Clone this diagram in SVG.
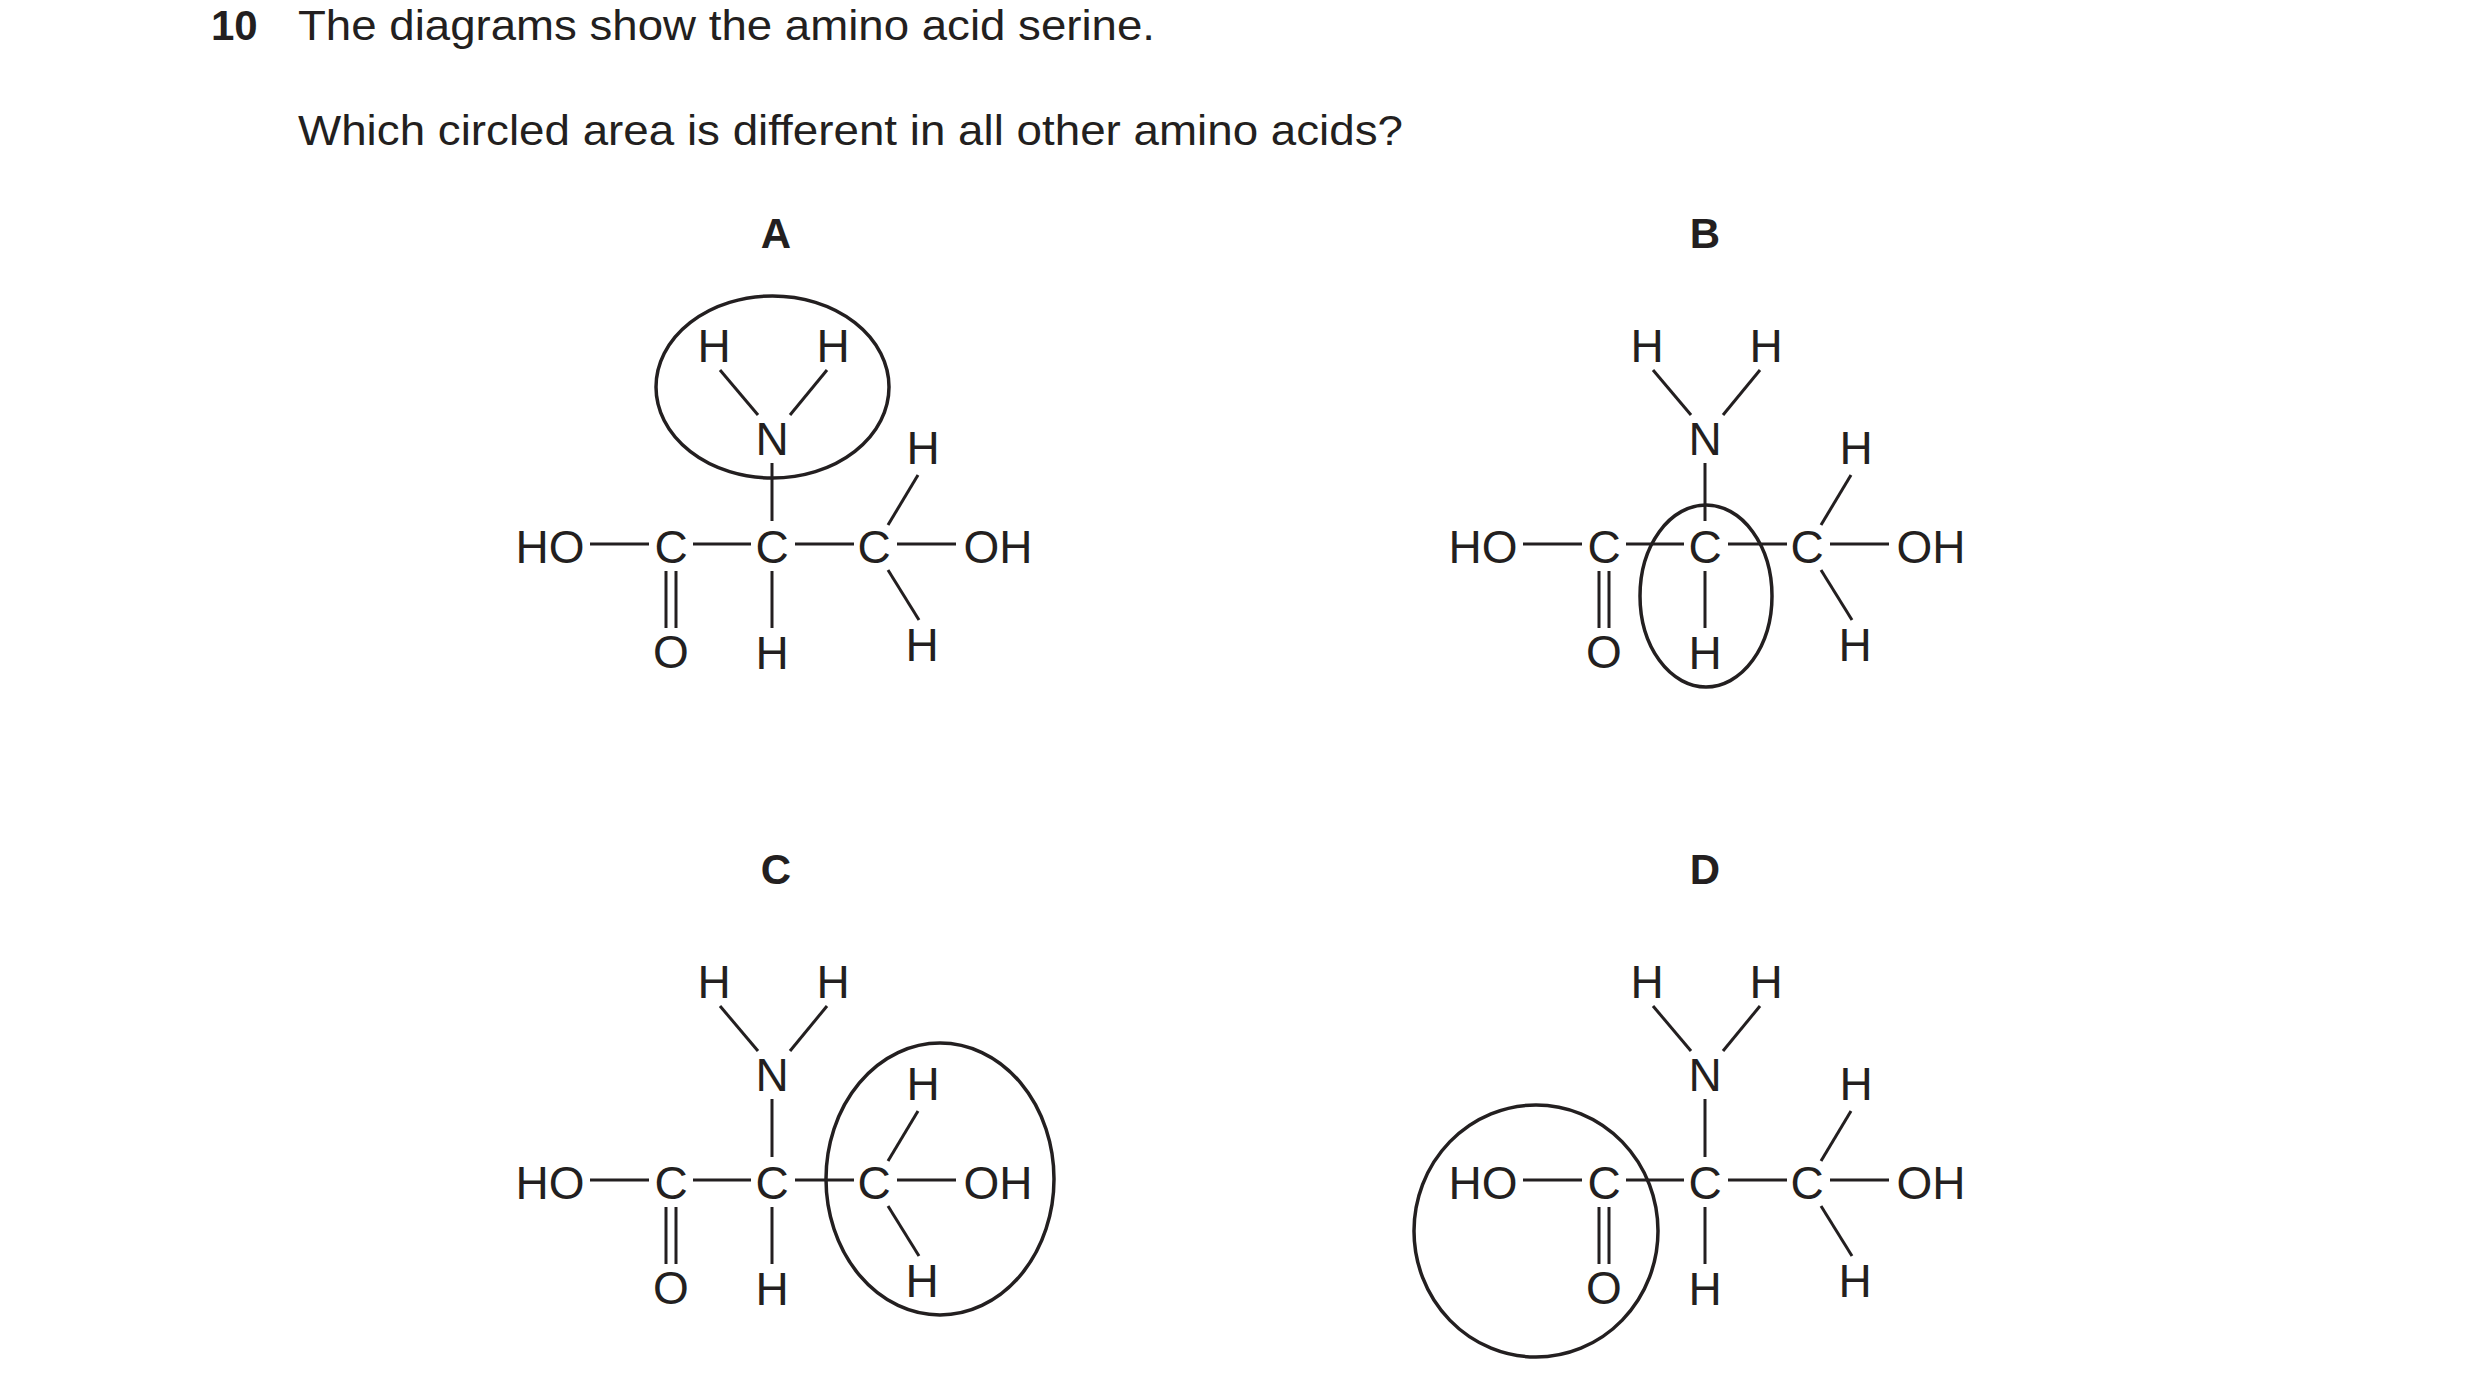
<svg xmlns="http://www.w3.org/2000/svg" xmlns:xlink="http://www.w3.org/1999/xlink" width="2480" height="1397" viewBox="0 0 2480 1397">
<style>
text{font-family:"Liberation Sans",Arial,sans-serif;fill:#231f20}
.q{font-size:42px}
.b{font-weight:bold}
.lbl{font-size:42px;font-weight:bold;text-anchor:middle}
.at{font-size:46px;text-anchor:middle}
.bd{stroke:#231f20;stroke-width:3;fill:none}
.ring{stroke:#231f20;stroke-width:3.5;fill:none}
</style>
<defs>
<g id="serine">
<g class="bd">
<line x1="593" y1="544" x2="652" y2="544"/>
<line x1="696" y1="544" x2="754" y2="544"/>
<line x1="798" y1="544" x2="857" y2="544"/>
<line x1="900" y1="544" x2="959" y2="544"/>
<line x1="723" y1="370" x2="761" y2="415"/>
<line x1="830" y1="370" x2="793" y2="415"/>
<line x1="775" y1="463" x2="775" y2="521"/>
<line x1="775" y1="571" x2="775" y2="628"/>
<line x1="669" y1="571" x2="669" y2="628"/>
<line x1="679" y1="571" x2="679" y2="628"/>
<line x1="891" y1="525" x2="921" y2="475"/>
<line x1="891" y1="570" x2="922" y2="620"/>
</g>
<text class="at" x="553" y="563">HO</text>
<text class="at" x="674" y="563">C</text>
<text class="at" x="775" y="563">C</text>
<text class="at" x="877" y="563">C</text>
<text class="at" x="1001" y="563">OH</text>
<text class="at" x="775" y="455">N</text>
<text class="at" x="717" y="362">H</text>
<text class="at" x="836" y="362">H</text>
<text class="at" x="926" y="464">H</text>
<text class="at" x="775" y="669">H</text>
<text class="at" x="674" y="668">O</text>
<text class="at" x="925" y="661">H</text>
</g>
</defs>
<text class="q b" x="211" y="40">10</text>
<text class="q" x="298" y="40" textLength="857" lengthAdjust="spacingAndGlyphs">The diagrams show the amino acid serine.</text>
<text class="q" x="298" y="145" textLength="1105" lengthAdjust="spacingAndGlyphs">Which circled area is different in all other amino acids?</text>
<g id="A">
<text class="lbl" x="776" y="248">A</text>
<use xlink:href="#serine" transform="translate(-3,0)"/>
<ellipse class="ring" cx="772.5" cy="387" rx="116.5" ry="91"/>
</g>
<g id="B">
<text class="lbl" x="1705" y="248">B</text>
<use xlink:href="#serine" transform="translate(930,0)"/>
<ellipse class="ring" cx="1706" cy="596" rx="66" ry="91"/>
</g>
<g id="C">
<text class="lbl" x="776" y="884">C</text>
<use xlink:href="#serine" transform="translate(-3,636)"/>
<ellipse class="ring" cx="940" cy="1179" rx="114" ry="136"/>
</g>
<g id="D">
<text class="lbl" x="1705" y="884">D</text>
<use xlink:href="#serine" transform="translate(930,636)"/>
<ellipse class="ring" cx="1536" cy="1231" rx="122" ry="126"/>
</g>
<g id="connectors"/>
</svg>
